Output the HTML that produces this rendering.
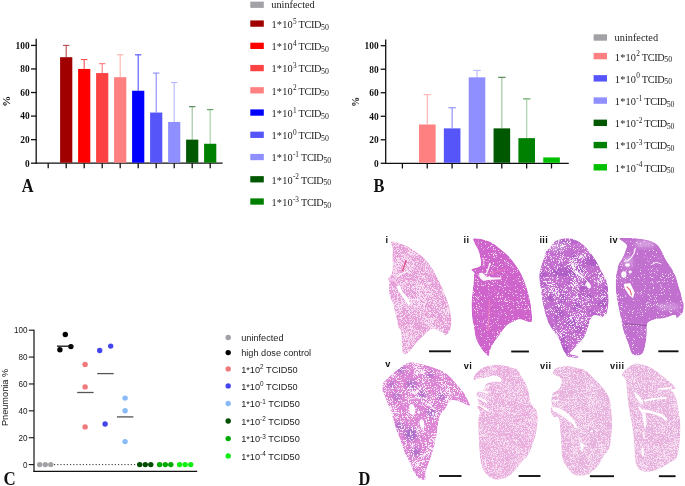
<!DOCTYPE html>
<html><head><meta charset="utf-8"><style>
html,body{margin:0;padding:0;background:#fff;width:685px;height:486px;overflow:hidden}
svg{display:block}
.tb{font-family:"Liberation Serif",serif;font-weight:bold;font-size:9.4px;fill:#111}
.lg{font-family:"Liberation Serif",serif;font-size:10.3px;fill:#222}
.sup{font-size:7.3px}
.sub{font-size:7.8px}
.ts{font-family:"Liberation Sans",sans-serif;font-size:8.7px;fill:#1a1a1a}
.lc{font-family:"Liberation Sans",sans-serif;font-size:9.2px;fill:#222}
.supc{font-size:6.4px}
.pl{font-family:"Liberation Serif",serif;font-weight:bold;font-size:17.8px;fill:#111}
.rl{font-family:"Liberation Sans",sans-serif;font-weight:bold;font-size:9.2px;letter-spacing:0.4px;fill:#111}
</style></head><body>
<svg width="685" height="486" viewBox="0 0 685 486" style="will-change:transform">
<defs>
<filter id="blur1" x="-50%" y="-50%" width="200%" height="200%"><feGaussianBlur stdDeviation="2"/></filter>
<clipPath id="ci"><path d="M390.7,241.8C390.82,240.58 391.83,241.13 393.4,241.4C394.97,241.67 397.43,242.4 400.1,243.4C402.77,244.4 406.5,245.85 409.4,247.4C412.3,248.95 415.05,250.92 417.5,252.7C419.95,254.48 421.88,255.87 424.1,258.1C426.32,260.33 428.78,263.2 430.8,266.1C432.82,269 434.42,272.15 436.2,275.5C437.98,278.85 439.58,281.87 441.5,286.2C443.42,290.53 446.18,297.27 447.7,301.5C449.22,305.73 449.98,308.23 450.6,311.6C451.22,314.97 451.52,318.57 451.4,321.7C451.28,324.83 450.87,328.12 449.9,330.4C448.93,332.68 446.68,334.93 445.6,335.4C444.52,335.87 444.72,334.03 443.4,333.2C442.08,332.37 439.62,331.12 437.7,330.4C435.78,329.68 433.58,328.67 431.9,328.9C430.22,329.13 429.28,330.35 427.6,331.8C425.92,333.25 423.73,335.68 421.8,337.6C419.87,339.52 417.68,341.38 416,343.3C414.32,345.22 413.13,347.42 411.7,349.1C410.27,350.78 408.72,352.57 407.4,353.4C406.08,354.23 404.65,354.58 403.8,354.1C402.95,353.62 402.67,352.77 402.3,350.5C401.93,348.23 401.83,343.85 401.6,340.5C401.37,337.15 401.38,332.45 400.9,330.4C400.42,328.35 399.42,330.13 398.7,328.2C397.98,326.27 397.55,322.77 396.6,318.8C395.65,314.83 394.2,308.37 393,304.4C391.8,300.43 390.12,298.03 389.4,295C388.68,291.97 388.7,288.33 388.7,286.2C388.7,284.07 389.52,283.43 389.4,282.2C389.28,280.97 387.67,280.15 388,278.8C388.33,277.45 390.62,275.98 391.4,274.1C392.18,272.22 392.55,270.38 392.7,267.5C392.85,264.62 392.3,259.93 392.3,256.8C392.3,253.67 392.97,251.2 392.7,248.7C392.43,246.2 390.58,243.02 390.7,241.8Z"/></clipPath>
<filter id="fi" filterUnits="userSpaceOnUse" color-interpolation-filters="sRGB" x="386" y="239.4" width="67.4" height="116.7"><feTurbulence type="fractalNoise" baseFrequency="1.25" numOctaves="2" seed="3"/><feColorMatrix type="matrix" values="1 0 0 0 0 1 0 0 0 0 1 0 0 0 0 0 0 0 0 1" result="h"/><feTurbulence type="fractalNoise" baseFrequency="0.07" numOctaves="2" seed="103"/><feColorMatrix type="matrix" values="1 0 0 0 0 1 0 0 0 0 1 0 0 0 0 0 0 0 0 1" result="l"/><feComposite in="h" in2="l" operator="arithmetic" k1="0" k2="1" k3="0.3" k4="-0.15"/><feColorMatrix type="matrix" values="0 0 0 0 1 0 0 0 0 1 0 0 0 0 1 12 0 0 0 -5.69"/><feComponentTransfer><feFuncA type="linear" slope="0.65"/></feComponentTransfer><feGaussianBlur stdDeviation="0.3"/></filter>
<clipPath id="cii"><path d="M473.4,238.7C474.3,237.92 477.2,238.15 480.1,238.7C483,239.25 487.47,240.33 490.8,242C494.13,243.67 497.15,246.37 500.1,248.7C503.05,251.03 505.85,253.2 508.5,256C511.15,258.8 513.78,262.33 516,265.5C518.22,268.67 520.05,271.42 521.8,275C523.55,278.58 525.1,282.58 526.5,287C527.9,291.42 529.35,297.4 530.2,301.5C531.05,305.6 531.43,308.18 531.6,311.6C531.77,315.02 533.13,320.72 531.2,322C529.27,323.28 522.75,319.43 520,319.3C517.25,319.17 516.3,320.58 514.7,321.2C513.1,321.82 511.73,322.28 510.4,323C509.07,323.72 507.83,324.47 506.7,325.5C505.57,326.53 504.63,327.87 503.6,329.2C502.57,330.53 501.53,332.07 500.5,333.5C499.47,334.93 498.43,336.35 497.4,337.8C496.37,339.25 495.37,340.52 494.3,342.2C493.23,343.88 491.77,346.27 491,347.9C490.23,349.53 490.12,350.65 489.7,352C489.28,353.35 489.22,355.75 488.5,356C487.78,356.25 486.43,354.52 485.4,353.5C484.37,352.48 483.33,351.27 482.3,349.9C481.27,348.53 480.15,346.93 479.2,345.3C478.25,343.67 477.28,341.82 476.6,340.1C475.92,338.38 475.57,337.35 475.1,335C474.63,332.65 474.27,328.7 473.8,326C473.33,323.3 472.68,322.4 472.3,318.8C471.92,315.2 471.47,308.87 471.5,304.4C471.53,299.93 472.18,295.48 472.5,292C472.82,288.52 473.15,286.7 473.4,283.5C473.65,280.3 474.33,275.13 474,272.8C473.67,270.47 470.38,270.62 471.4,269.5C472.42,268.38 478.55,267.55 480.1,266.1C481.65,264.65 480.93,263.25 480.7,260.8C480.47,258.35 479.7,254.3 478.7,251.4C477.7,248.5 475.58,245.52 474.7,243.4C473.82,241.28 472.5,239.48 473.4,238.7Z"/></clipPath>
<filter id="fii" filterUnits="userSpaceOnUse" color-interpolation-filters="sRGB" x="469.4" y="236.7" width="64.2" height="121.3"><feTurbulence type="fractalNoise" baseFrequency="1.25" numOctaves="2" seed="5"/><feColorMatrix type="matrix" values="1 0 0 0 0 1 0 0 0 0 1 0 0 0 0 0 0 0 0 1" result="h"/><feTurbulence type="fractalNoise" baseFrequency="0.07" numOctaves="2" seed="105"/><feColorMatrix type="matrix" values="1 0 0 0 0 1 0 0 0 0 1 0 0 0 0 0 0 0 0 1" result="l"/><feComposite in="h" in2="l" operator="arithmetic" k1="0" k2="1" k3="0.22" k4="-0.11"/><feColorMatrix type="matrix" values="0 0 0 0 1 0 0 0 0 1 0 0 0 0 1 12 0 0 0 -7.68"/><feComponentTransfer><feFuncA type="linear" slope="0.8"/></feComponentTransfer><feGaussianBlur stdDeviation="0.3"/></filter>
<clipPath id="ciii"><path d="M554.1,242C555.65,240.67 557.4,240.02 559.4,239.4C561.4,238.78 563.65,238.3 566.1,238.3C568.55,238.3 571.65,238.67 574.1,239.4C576.55,240.13 578.78,241.37 580.8,242.7C582.82,244.03 584.42,245.5 586.2,247.4C587.98,249.3 589.65,251.5 591.5,254.1C593.35,256.7 595.5,259.95 597.3,263C599.1,266.05 600.85,269.6 602.3,272.4C603.75,275.2 605.08,277.33 606,279.8C606.92,282.27 607.38,284.52 607.8,287.2C608.22,289.88 608.43,292.82 608.5,295.9C608.57,298.98 608.42,303.03 608.2,305.7C607.98,308.37 607.67,310.25 607.2,311.9C606.73,313.55 606.22,314.77 605.4,315.6C604.58,316.43 603.65,316.9 602.3,316.9C600.95,316.9 598.75,315.82 597.3,315.6C595.85,315.38 594.72,314.98 593.6,315.6C592.48,316.22 591.47,317.57 590.6,319.3C589.73,321.03 589.3,323.38 588.4,326C587.5,328.62 586.38,332.57 585.2,335C584.02,337.43 582.78,338.75 581.3,340.6C579.82,342.45 577.78,344.43 576.3,346.1C574.82,347.77 573.45,349.37 572.4,350.6C571.35,351.83 569.8,352.75 570,353.5C570.2,354.25 572.37,354.7 573.6,355.1C574.83,355.5 576.62,355.48 577.4,355.9C578.18,356.32 579.32,357.35 578.3,357.6C577.28,357.85 573.2,357.62 571.3,357.4C569.4,357.18 567.92,356.98 566.9,356.3C565.88,355.62 565.85,354.45 565.2,353.3C564.55,352.15 563.65,350.78 563,349.4C562.35,348.02 561.85,346.47 561.3,345C560.75,343.53 560.25,341.9 559.7,340.6C559.15,339.3 559.58,339.63 558,337.2C556.42,334.77 552.22,329.55 550.2,326C548.18,322.45 547.1,319.5 545.9,315.9C544.7,312.3 543.85,308.72 543,304.4C542.15,300.08 541.4,294.6 540.8,290C540.2,285.4 539.42,280.55 539.4,276.8C539.38,273.05 540.03,270.4 540.7,267.5C541.37,264.6 542.5,262.08 543.4,259.4C544.3,256.72 544.98,253.4 546.1,251.4C547.22,249.4 548.77,248.97 550.1,247.4C551.43,245.83 552.55,243.33 554.1,242Z"/></clipPath>
<filter id="fiii" filterUnits="userSpaceOnUse" color-interpolation-filters="sRGB" x="537.4" y="236.3" width="73.1" height="123.3"><feTurbulence type="fractalNoise" baseFrequency="1.25" numOctaves="2" seed="7"/><feColorMatrix type="matrix" values="1 0 0 0 0 1 0 0 0 0 1 0 0 0 0 0 0 0 0 1" result="h"/><feTurbulence type="fractalNoise" baseFrequency="0.07" numOctaves="2" seed="107"/><feColorMatrix type="matrix" values="1 0 0 0 0 1 0 0 0 0 1 0 0 0 0 0 0 0 0 1" result="l"/><feComposite in="h" in2="l" operator="arithmetic" k1="0" k2="1" k3="0.4" k4="-0.2"/><feColorMatrix type="matrix" values="0 0 0 0 1 0 0 0 0 1 0 0 0 0 1 12 0 0 0 -6.75"/><feComponentTransfer><feFuncA type="linear" slope="0.85"/></feComponentTransfer><feGaussianBlur stdDeviation="0.3"/></filter>
<filter id="miii" filterUnits="userSpaceOnUse" color-interpolation-filters="sRGB" x="537.4" y="236.3" width="73.1" height="123.3"><feTurbulence type="fractalNoise" baseFrequency="0.09" numOctaves="2" seed="57"/><feColorMatrix type="matrix" values="0 0 0 0 1 0 0 0 0 1 0 0 0 0 1 6 0 0 0 -3.0"/></filter>
<mask id="mmiii" maskUnits="userSpaceOnUse" x="537.4" y="236.3" width="73.1" height="123.3"><rect x="537.4" y="236.3" width="73.1" height="123.3" fill="#fff" filter="url(#miii)"/></mask>
<clipPath id="civ"><path d="M619,238.7C618.78,237.58 622.3,238.07 625.1,238C627.9,237.93 632.47,238.07 635.8,238.3C639.13,238.53 642.2,238.78 645.1,239.4C648,240.02 650.97,240.88 653.2,242C655.43,243.12 656.95,244.32 658.5,246.1C660.05,247.88 661.17,250.25 662.5,252.7C663.83,255.15 664.93,258.12 666.5,260.8C668.07,263.48 670.33,266.13 671.9,268.8C673.47,271.47 674.78,273.9 675.9,276.8C677.02,279.7 677.83,283.67 678.6,286.2C679.37,288.73 679.8,289.45 680.5,292C681.2,294.55 682.27,299.62 682.8,301.5C683.33,303.38 683.57,302.05 683.7,303.3C683.83,304.55 683.8,307.38 683.6,309C683.4,310.62 683.18,311.83 682.5,313C681.82,314.17 680.5,315.13 679.5,316C678.5,316.87 677.12,318.28 676.5,318.2C675.88,318.12 676.47,316 675.8,315.5C675.13,315 673.53,315.05 672.5,315.2C671.47,315.35 671.18,315.87 669.6,316.4C668.02,316.93 665.2,317.98 663,318.4C660.8,318.82 658.58,318.43 656.4,318.9C654.22,319.37 651.47,320.27 649.9,321.2C648.33,322.13 647.52,322.5 647,324.5C646.48,326.5 647.07,329.82 646.8,333.2C646.53,336.58 646.12,341.43 645.4,344.8C644.68,348.17 643.95,351.6 642.5,353.4C641.05,355.2 638.5,355.6 636.7,355.6C634.9,355.6 633.13,355.45 631.7,353.4C630.27,351.35 629.43,346.9 628.1,343.3C626.77,339.7 624.9,335.88 623.7,331.8C622.5,327.72 621.85,323.37 620.9,318.8C619.95,314.23 618.82,308.87 618,304.4C617.18,299.93 616.35,296.52 616,292C615.65,287.48 615.68,280.95 615.9,277.3C616.12,273.65 616.88,272.18 617.3,270.1C617.72,268.02 617.55,266.8 618.4,264.8C619.25,262.8 621.28,260.33 622.4,258.1C623.52,255.87 624.43,253.63 625.1,251.4C625.77,249.17 627.42,246.82 626.4,244.7C625.38,242.58 619.22,239.82 619,238.7Z"/></clipPath>
<filter id="fiv" filterUnits="userSpaceOnUse" color-interpolation-filters="sRGB" x="613.9" y="236" width="71.8" height="121.6"><feTurbulence type="fractalNoise" baseFrequency="1.25" numOctaves="2" seed="9"/><feColorMatrix type="matrix" values="1 0 0 0 0 1 0 0 0 0 1 0 0 0 0 0 0 0 0 1" result="h"/><feTurbulence type="fractalNoise" baseFrequency="0.07" numOctaves="2" seed="109"/><feColorMatrix type="matrix" values="1 0 0 0 0 1 0 0 0 0 1 0 0 0 0 0 0 0 0 1" result="l"/><feComposite in="h" in2="l" operator="arithmetic" k1="0" k2="1" k3="0.22" k4="-0.11"/><feColorMatrix type="matrix" values="0 0 0 0 1 0 0 0 0 1 0 0 0 0 1 12 0 0 0 -7.93"/><feComponentTransfer><feFuncA type="linear" slope="0.8"/></feComponentTransfer><feGaussianBlur stdDeviation="0.3"/></filter>
<clipPath id="cv"><path d="M383,384.2C383.25,382.87 382.7,383.33 383.8,382C384.9,380.67 387.17,378.38 389.6,376.2C392.03,374.02 395.72,370.97 398.4,368.9C401.08,366.83 403.52,364.9 405.7,363.8C407.88,362.7 408.58,362.18 411.5,362.3C414.42,362.42 419.55,363.65 423.2,364.5C426.85,365.35 430.23,366.3 433.4,367.4C436.57,368.5 439.52,369.63 442.2,371.1C444.88,372.57 447.07,374.02 449.5,376.2C451.93,378.38 454.37,381.4 456.8,384.2C459.23,387 461.92,389.6 464.1,393C466.28,396.4 469.18,402.53 469.9,404.6C470.62,406.67 469.87,405.77 468.4,405.4C466.93,405.03 463.53,403.25 461.1,402.4C458.67,401.55 455.73,400.42 453.8,400.3C451.87,400.18 450.95,400.25 449.5,401.7C448.05,403.15 446.62,406.8 445.1,409C443.58,411.2 441.57,412.37 440.4,414.9C439.23,417.43 438.68,421.1 438.1,424.2C437.52,427.3 437.48,430.03 436.9,433.5C436.32,436.97 435.55,441.27 434.6,445C433.65,448.73 432.37,452.38 431.2,455.9C430.03,459.42 428.57,463.18 427.6,466.1C426.63,469.02 425.77,471.22 425.4,473.4C425.03,475.58 426.25,478.23 425.4,479.2C424.55,480.17 422.13,480.17 420.3,479.2C418.47,478.23 416.12,476.07 414.4,473.4C412.68,470.73 411.7,466.85 410,463.2C408.3,459.55 405.9,455.63 404.2,451.5C402.5,447.37 400.97,441.58 399.8,438.4C398.63,435.22 398.12,434.97 397.2,432.4C396.28,429.83 395.27,426.12 394.3,423C393.33,419.88 392.48,416.82 391.4,413.7C390.32,410.58 388.98,407.42 387.8,404.3C386.62,401.18 385.22,397.38 384.3,395C383.38,392.62 382.52,391.8 382.3,390C382.08,388.2 382.75,385.53 383,384.2Z"/></clipPath>
<filter id="fv" filterUnits="userSpaceOnUse" color-interpolation-filters="sRGB" x="380.3" y="360.3" width="91.6" height="120.9"><feTurbulence type="fractalNoise" baseFrequency="1.25" numOctaves="2" seed="11"/><feColorMatrix type="matrix" values="1 0 0 0 0 1 0 0 0 0 1 0 0 0 0 0 0 0 0 1" result="h"/><feTurbulence type="fractalNoise" baseFrequency="0.07" numOctaves="2" seed="111"/><feColorMatrix type="matrix" values="1 0 0 0 0 1 0 0 0 0 1 0 0 0 0 0 0 0 0 1" result="l"/><feComposite in="h" in2="l" operator="arithmetic" k1="0" k2="1" k3="0.45" k4="-0.23"/><feColorMatrix type="matrix" values="0 0 0 0 1 0 0 0 0 1 0 0 0 0 1 12 0 0 0 -6.33"/><feComponentTransfer><feFuncA type="linear" slope="0.85"/></feComponentTransfer><feGaussianBlur stdDeviation="0.3"/></filter>
<clipPath id="cvi"><path d="M473.6,379.8C472.78,379.18 474.07,376.35 474.9,374.8C475.73,373.25 476.95,371.83 478.6,370.5C480.25,369.17 482.53,367.68 484.8,366.8C487.07,365.92 489.53,365.52 492.2,365.2C494.87,364.88 498.13,364.73 500.8,364.9C503.47,365.07 506.08,365.63 508.2,366.2C510.32,366.77 511.98,367.73 513.5,368.3C515.02,368.87 515.88,368.1 517.3,369.6C518.72,371.1 520.45,374.72 522,377.3C523.55,379.88 525.45,382.52 526.6,385.1C527.75,387.68 528.38,390.48 528.9,392.8C529.42,395.12 529.18,396.95 529.7,399C530.22,401.05 530.92,403.3 532,405.1C533.08,406.9 535.25,408 536.2,409.8C537.15,411.6 537.48,413.53 537.7,415.9C537.92,418.27 537.67,421.65 537.5,424C537.33,426.35 537,428.17 536.7,430C536.4,431.83 536.13,433.28 535.7,435C535.27,436.72 534.67,438.57 534.1,440.3C533.53,442.03 532.93,443.68 532.3,445.4C531.67,447.12 531.18,448.75 530.3,450.6C529.42,452.45 528.63,454.32 527,456.5C525.37,458.68 522.37,461.55 520.5,463.7C518.63,465.85 517.37,467.65 515.8,469.4C514.23,471.15 512.83,472.77 511.1,474.2C509.37,475.63 507.3,477.1 505.4,478C503.5,478.9 501.45,479.33 499.7,479.6C497.95,479.87 496.48,479.95 494.9,479.6C493.32,479.25 491.78,478.57 490.2,477.5C488.62,476.43 486.75,474.87 485.4,473.2C484.05,471.53 482.97,469.87 482.1,467.5C481.23,465.13 480.67,462 480.2,459C479.73,456 479.53,452.67 479.3,449.5C479.07,446.33 478.98,443.58 478.8,440C478.62,436.42 478.25,431.67 478.2,428C478.15,424.33 478.23,420.68 478.5,418C478.77,415.32 480,413.75 479.8,411.9C479.6,410.05 477.5,408.35 477.3,406.9C477.1,405.45 478.7,404.85 478.6,403.2C478.5,401.55 476.92,398.85 476.7,397C476.48,395.15 476.17,393.33 477.3,392.1C478.43,390.87 482.15,390.83 483.5,389.6C484.85,388.37 484.37,385.93 485.4,384.7C486.43,383.47 487.95,382.72 489.7,382.2C491.45,381.68 494.15,381.6 495.9,381.6C497.65,381.6 499.28,382.5 500.2,382.2C501.12,381.9 501.5,380.62 501.4,379.8C501.3,378.98 500.93,378.03 499.6,377.3C498.27,376.57 495.47,375.4 493.4,375.4C491.33,375.4 489.47,376.78 487.2,377.3C484.93,377.82 482.07,378.08 479.8,378.5C477.53,378.92 474.42,380.42 473.6,379.8Z"/></clipPath>
<filter id="fvi" filterUnits="userSpaceOnUse" color-interpolation-filters="sRGB" x="471.6" y="362.9" width="68.1" height="118.7"><feTurbulence type="fractalNoise" baseFrequency="1.25" numOctaves="2" seed="13"/><feColorMatrix type="matrix" values="1 0 0 0 0 1 0 0 0 0 1 0 0 0 0 0 0 0 0 1" result="h"/><feTurbulence type="fractalNoise" baseFrequency="0.07" numOctaves="2" seed="113"/><feColorMatrix type="matrix" values="1 0 0 0 0 1 0 0 0 0 1 0 0 0 0 0 0 0 0 1" result="l"/><feComposite in="h" in2="l" operator="arithmetic" k1="0" k2="1" k3="0.22" k4="-0.11"/><feColorMatrix type="matrix" values="0 0 0 0 1 0 0 0 0 1 0 0 0 0 1 12 0 0 0 -5.87"/><feComponentTransfer><feFuncA type="linear" slope="0.6"/></feComponentTransfer><feGaussianBlur stdDeviation="0.3"/></filter>
<clipPath id="cvii"><path d="M552.8,373.2C552.52,372.25 553.25,370.87 554,369.9C554.75,368.93 555.65,368.02 557.3,367.4C558.95,366.78 561.57,366.37 563.9,366.2C566.23,366.03 568.7,366.07 571.3,366.4C573.9,366.73 577.08,367.52 579.5,368.2C581.92,368.88 583.55,369 585.8,370.5C588.05,372 590.6,374.88 593,377.2C595.4,379.52 598.05,382 600.2,384.4C602.35,386.8 604.35,389.2 605.9,391.6C607.45,394 608.65,396.4 609.5,398.8C610.35,401.2 610.65,403.6 611,406C611.35,408.4 611.43,410.87 611.6,413.2C611.77,415.53 611.92,418.03 612,420C612.08,421.97 612.18,422.5 612.1,425C612.02,427.5 611.8,431.67 611.5,435C611.2,438.33 610.97,442.17 610.3,445C609.63,447.83 608.58,450.25 607.5,452C606.42,453.75 604.78,454.03 603.8,455.5C602.82,456.97 602.57,459.05 601.6,460.8C600.63,462.55 599.47,464.28 598,466C596.53,467.72 594.52,469.65 592.8,471.1C591.08,472.55 589.52,473.92 587.7,474.7C585.88,475.48 583.83,475.68 581.9,475.8C579.97,475.92 577.8,475.83 576.1,475.4C574.4,474.97 573.17,474.42 571.7,473.2C570.23,471.98 568.65,469.92 567.3,468.1C565.95,466.28 564.52,464.48 563.6,462.3C562.68,460.12 562.2,457.88 561.8,455C561.4,452.12 561.38,448.33 561.2,445C561.02,441.67 560.85,437.18 560.7,435C560.55,432.82 560.47,433.87 560.3,431.9C560.13,429.93 560.1,425.68 559.7,423.2C559.3,420.72 558.92,418.03 557.9,417C556.88,415.97 554.83,418.02 553.6,417C552.37,415.98 550.82,412.75 550.5,410.9C550.18,409.05 551.57,407.72 551.7,405.9C551.83,404.08 551.25,401.75 551.3,400C551.35,398.25 551.75,396.58 552,395.4C552.25,394.22 552.18,393.6 552.8,392.9C553.42,392.2 554.67,391.88 555.7,391.2C556.73,390.52 558.12,389.88 559,388.8C559.88,387.72 560.6,386.07 561,384.7C561.4,383.33 561.67,381.83 561.4,380.6C561.13,379.37 560.35,378.13 559.4,377.3C558.45,376.47 556.8,376.28 555.7,375.6C554.6,374.92 553.08,374.15 552.8,373.2Z"/></clipPath>
<filter id="fvii" filterUnits="userSpaceOnUse" color-interpolation-filters="sRGB" x="548.5" y="364.2" width="65.6" height="113.6"><feTurbulence type="fractalNoise" baseFrequency="1.25" numOctaves="2" seed="15"/><feColorMatrix type="matrix" values="1 0 0 0 0 1 0 0 0 0 1 0 0 0 0 0 0 0 0 1" result="h"/><feTurbulence type="fractalNoise" baseFrequency="0.07" numOctaves="2" seed="115"/><feColorMatrix type="matrix" values="1 0 0 0 0 1 0 0 0 0 1 0 0 0 0 0 0 0 0 1" result="l"/><feComposite in="h" in2="l" operator="arithmetic" k1="0" k2="1" k3="0.22" k4="-0.11"/><feColorMatrix type="matrix" values="0 0 0 0 1 0 0 0 0 1 0 0 0 0 1 12 0 0 0 -5.87"/><feComponentTransfer><feFuncA type="linear" slope="0.6"/></feComponentTransfer><feGaussianBlur stdDeviation="0.3"/></filter>
<clipPath id="cviii"><path d="M621.7,374.8C621.7,373.87 622.17,373.13 623.5,371.7C624.83,370.27 627.63,367.57 629.7,366.2C631.77,364.83 633.85,363.82 635.9,363.5C637.95,363.18 639.53,363.65 642,364.3C644.47,364.95 648.02,366.07 650.7,367.4C653.38,368.73 655.83,370.65 658.1,372.3C660.37,373.95 662.03,375.43 664.3,377.3C666.57,379.17 669.75,381.75 671.7,383.5C673.65,385.25 675.8,386.88 676,387.8C676.2,388.72 673.82,388.67 672.9,389C671.98,389.33 670.57,389.38 670.5,389.8C670.43,390.22 671.9,390.92 672.5,391.5C673.1,392.08 673.42,391.97 674.1,393.3C674.78,394.63 675.87,396.82 676.6,399.5C677.33,402.18 677.88,405.65 678.5,409.4C679.12,413.15 680,417.73 680.3,422C680.6,426.27 680.47,430.83 680.3,435C680.13,439.17 679.87,443.32 679.3,447C678.73,450.68 677.92,454.8 676.9,457.1C675.88,459.4 674.85,459.57 673.2,460.8C671.55,462.03 669.27,463.17 667,464.5C664.73,465.83 662.08,467.67 659.6,468.8C657.12,469.93 654.58,470.82 652.1,471.3C649.62,471.78 646.85,472.02 644.7,471.7C642.55,471.38 640.63,470.6 639.2,469.4C637.77,468.2 636.83,466.55 636.1,464.5C635.37,462.45 635.1,460.02 634.8,457.1C634.5,454.18 634.52,450.35 634.3,447C634.08,443.65 633.88,440.67 633.5,437C633.12,433.33 632.67,429 632,425C631.33,421 630.2,417.05 629.5,413C628.8,408.95 628.22,404.18 627.8,400.7C627.38,397.22 627.27,394.77 627,392.1C626.73,389.43 626.47,386.75 626.2,384.7C625.93,382.65 625.85,381.03 625.4,379.8C624.95,378.57 624.12,378.13 623.5,377.3C622.88,376.47 621.7,375.73 621.7,374.8Z"/></clipPath>
<filter id="fviii" filterUnits="userSpaceOnUse" color-interpolation-filters="sRGB" x="619.7" y="361.5" width="62.6" height="112.2"><feTurbulence type="fractalNoise" baseFrequency="1.25" numOctaves="2" seed="17"/><feColorMatrix type="matrix" values="1 0 0 0 0 1 0 0 0 0 1 0 0 0 0 0 0 0 0 1" result="h"/><feTurbulence type="fractalNoise" baseFrequency="0.07" numOctaves="2" seed="117"/><feColorMatrix type="matrix" values="1 0 0 0 0 1 0 0 0 0 1 0 0 0 0 0 0 0 0 1" result="l"/><feComposite in="h" in2="l" operator="arithmetic" k1="0" k2="1" k3="0.22" k4="-0.11"/><feColorMatrix type="matrix" values="0 0 0 0 1 0 0 0 0 1 0 0 0 0 1 12 0 0 0 -5.87"/><feComponentTransfer><feFuncA type="linear" slope="0.6"/></feComponentTransfer><feGaussianBlur stdDeviation="0.3"/></filter>
</defs>
<rect width="685" height="486" fill="#fff"/>
<g id="chartA">
<line x1="36.2" y1="38.8" x2="36.2" y2="163.8" stroke="#111" stroke-width="1.3"/>
<line x1="35.6" y1="163.2" x2="222.6" y2="163.2" stroke="#111" stroke-width="1.3"/>
<line x1="31" y1="163.2" x2="36.2" y2="163.2" stroke="#111" stroke-width="1.3"/>
<text x="29.6" y="166.5" class="tb" text-anchor="end">0</text>
<line x1="31" y1="139.64" x2="36.2" y2="139.64" stroke="#111" stroke-width="1.3"/>
<text x="29.6" y="142.94" class="tb" text-anchor="end">20</text>
<line x1="31" y1="116.08" x2="36.2" y2="116.08" stroke="#111" stroke-width="1.3"/>
<text x="29.6" y="119.38" class="tb" text-anchor="end">40</text>
<line x1="31" y1="92.52" x2="36.2" y2="92.52" stroke="#111" stroke-width="1.3"/>
<text x="29.6" y="95.82" class="tb" text-anchor="end">60</text>
<line x1="31" y1="68.96" x2="36.2" y2="68.96" stroke="#111" stroke-width="1.3"/>
<text x="29.6" y="72.26" class="tb" text-anchor="end">80</text>
<line x1="31" y1="45.4" x2="36.2" y2="45.4" stroke="#111" stroke-width="1.3"/>
<text x="29.6" y="48.7" class="tb" text-anchor="end">100</text>
<line x1="48.2" y1="163.2" x2="48.2" y2="168.3" stroke="#111" stroke-width="1.3"/>
<line x1="66.2" y1="163.2" x2="66.2" y2="168.3" stroke="#111" stroke-width="1.3"/>
<line x1="84.2" y1="163.2" x2="84.2" y2="168.3" stroke="#111" stroke-width="1.3"/>
<line x1="102.2" y1="163.2" x2="102.2" y2="168.3" stroke="#111" stroke-width="1.3"/>
<line x1="120.2" y1="163.2" x2="120.2" y2="168.3" stroke="#111" stroke-width="1.3"/>
<line x1="138.2" y1="163.2" x2="138.2" y2="168.3" stroke="#111" stroke-width="1.3"/>
<line x1="156.2" y1="163.2" x2="156.2" y2="168.3" stroke="#111" stroke-width="1.3"/>
<line x1="174.2" y1="163.2" x2="174.2" y2="168.3" stroke="#111" stroke-width="1.3"/>
<line x1="192.2" y1="163.2" x2="192.2" y2="168.3" stroke="#111" stroke-width="1.3"/>
<line x1="210.2" y1="163.2" x2="210.2" y2="168.3" stroke="#111" stroke-width="1.3"/>
<line x1="66.2" y1="45.4" x2="66.2" y2="57.18" stroke="#b84848" stroke-width="1.1"/>
<line x1="63" y1="45.4" x2="69.4" y2="45.4" stroke="#b84848" stroke-width="1.1"/>
<rect x="60.1" y="57.18" width="12.2" height="105.52" fill="#a00000"/>
<line x1="84.2" y1="59.54" x2="84.2" y2="68.96" stroke="#ff5050" stroke-width="1.1"/>
<line x1="81" y1="59.54" x2="87.4" y2="59.54" stroke="#ff5050" stroke-width="1.1"/>
<rect x="78.1" y="68.96" width="12.2" height="93.74" fill="#ff0000"/>
<line x1="102.2" y1="63.66" x2="102.2" y2="73.08" stroke="#fd7a7a" stroke-width="1.1"/>
<line x1="99" y1="63.66" x2="105.4" y2="63.66" stroke="#fd7a7a" stroke-width="1.1"/>
<rect x="96.1" y="73.08" width="12.2" height="89.62" fill="#fc4242"/>
<line x1="120.2" y1="54.82" x2="120.2" y2="77.21" stroke="#ffb0b0" stroke-width="1.1"/>
<line x1="117" y1="54.82" x2="123.4" y2="54.82" stroke="#ffb0b0" stroke-width="1.1"/>
<rect x="114.1" y="77.21" width="12.2" height="85.49" fill="#ff8080"/>
<line x1="138.2" y1="54.82" x2="138.2" y2="90.75" stroke="#5050ff" stroke-width="1.1"/>
<line x1="135" y1="54.82" x2="141.4" y2="54.82" stroke="#5050ff" stroke-width="1.1"/>
<rect x="132.1" y="90.75" width="12.2" height="71.95" fill="#0000ff"/>
<line x1="156.2" y1="73.08" x2="156.2" y2="112.55" stroke="#8a8afc" stroke-width="1.1"/>
<line x1="153" y1="73.08" x2="159.4" y2="73.08" stroke="#8a8afc" stroke-width="1.1"/>
<rect x="150.1" y="112.55" width="12.2" height="50.15" fill="#5555fa"/>
<line x1="174.2" y1="82.51" x2="174.2" y2="121.97" stroke="#b8b8ff" stroke-width="1.1"/>
<line x1="171" y1="82.51" x2="177.4" y2="82.51" stroke="#b8b8ff" stroke-width="1.1"/>
<rect x="168.1" y="121.97" width="12.2" height="40.73" fill="#8f8fff"/>
<line x1="192.2" y1="106.66" x2="192.2" y2="139.64" stroke="#9dbf9d" stroke-width="1.1"/>
<line x1="189" y1="106.66" x2="195.4" y2="106.66" stroke="#4a804a" stroke-width="1.1"/>
<rect x="186.1" y="139.64" width="12.2" height="23.06" fill="#005800"/>
<line x1="210.2" y1="109.6" x2="210.2" y2="143.76" stroke="#a2cfa2" stroke-width="1.1"/>
<line x1="207" y1="109.6" x2="213.4" y2="109.6" stroke="#5aa05a" stroke-width="1.1"/>
<rect x="204.1" y="143.76" width="12.2" height="18.94" fill="#008000"/>
<text transform="translate(9.8,101.2) rotate(-90)" class="tb" style="font-size:11px" text-anchor="middle">%</text>
<text transform="translate(21.7,192.4) scale(0.92,1)" class="pl">A</text>
</g>
<rect x="250.3" y="1.6" width="13.5" height="6.3" fill="#a2a1a6"/>
<text x="271.3" y="7.9" class="lg">uninfected</text>
<rect x="250.3" y="20.45" width="13.5" height="6.3" fill="#a00000"/>
<text x="271.5" y="28" class="lg"><tspan letter-spacing="0.2">1*10</tspan><tspan class="sup" dy="-4.4">5</tspan><tspan dy="4.4" letter-spacing="-0.4"> TCID</tspan><tspan class="sub" dy="1.7">50</tspan></text>
<rect x="250.3" y="42.69" width="13.5" height="6.3" fill="#ff0000"/>
<text x="271.5" y="50.24" class="lg"><tspan letter-spacing="0.2">1*10</tspan><tspan class="sup" dy="-4.4">4</tspan><tspan dy="4.4" letter-spacing="-0.4"> TCID</tspan><tspan class="sub" dy="1.7">50</tspan></text>
<rect x="250.3" y="64.93" width="13.5" height="6.3" fill="#fc4242"/>
<text x="271.5" y="72.48" class="lg"><tspan letter-spacing="0.2">1*10</tspan><tspan class="sup" dy="-4.4">3</tspan><tspan dy="4.4" letter-spacing="-0.4"> TCID</tspan><tspan class="sub" dy="1.7">50</tspan></text>
<rect x="250.3" y="87.17" width="13.5" height="6.3" fill="#ff8080"/>
<text x="271.5" y="94.72" class="lg"><tspan letter-spacing="0.2">1*10</tspan><tspan class="sup" dy="-4.4">2</tspan><tspan dy="4.4" letter-spacing="-0.4"> TCID</tspan><tspan class="sub" dy="1.7">50</tspan></text>
<rect x="250.3" y="109.41" width="13.5" height="6.3" fill="#0000ff"/>
<text x="271.5" y="116.96" class="lg"><tspan letter-spacing="0.2">1*10</tspan><tspan class="sup" dy="-4.4">1</tspan><tspan dy="4.4" letter-spacing="-0.4"> TCID</tspan><tspan class="sub" dy="1.7">50</tspan></text>
<rect x="250.3" y="131.65" width="13.5" height="6.3" fill="#5555fa"/>
<text x="271.5" y="139.2" class="lg"><tspan letter-spacing="0.2">1*10</tspan><tspan class="sup" dy="-4.4">0</tspan><tspan dy="4.4" letter-spacing="-0.4"> TCID</tspan><tspan class="sub" dy="1.7">50</tspan></text>
<rect x="250.3" y="153.89" width="13.5" height="6.3" fill="#8f8fff"/>
<text x="271.5" y="161.44" class="lg"><tspan letter-spacing="0.2">1*10</tspan><tspan class="sup" dy="-4.4">-1</tspan><tspan dy="4.4" letter-spacing="-0.4"> TCID</tspan><tspan class="sub" dy="1.7">50</tspan></text>
<rect x="250.3" y="176.13" width="13.5" height="6.3" fill="#005800"/>
<text x="271.5" y="183.68" class="lg"><tspan letter-spacing="0.2">1*10</tspan><tspan class="sup" dy="-4.4">-2</tspan><tspan dy="4.4" letter-spacing="-0.4"> TCID</tspan><tspan class="sub" dy="1.7">50</tspan></text>
<rect x="250.3" y="198.37" width="13.5" height="6.3" fill="#008000"/>
<text x="271.5" y="205.92" class="lg"><tspan letter-spacing="0.2">1*10</tspan><tspan class="sup" dy="-4.4">-3</tspan><tspan dy="4.4" letter-spacing="-0.4"> TCID</tspan><tspan class="sub" dy="1.7">50</tspan></text>
<g id="chartB">
<line x1="385.7" y1="39.6" x2="385.7" y2="163.9" stroke="#111" stroke-width="1.3"/>
<line x1="385.1" y1="163.3" x2="568.8" y2="163.3" stroke="#111" stroke-width="1.3"/>
<line x1="380.7" y1="163.3" x2="385.7" y2="163.3" stroke="#111" stroke-width="1.3"/>
<text x="378.6" y="166.6" class="tb" text-anchor="end">0</text>
<line x1="380.7" y1="139.78" x2="385.7" y2="139.78" stroke="#111" stroke-width="1.3"/>
<text x="378.6" y="143.08" class="tb" text-anchor="end">20</text>
<line x1="380.7" y1="116.26" x2="385.7" y2="116.26" stroke="#111" stroke-width="1.3"/>
<text x="378.6" y="119.56" class="tb" text-anchor="end">40</text>
<line x1="380.7" y1="92.74" x2="385.7" y2="92.74" stroke="#111" stroke-width="1.3"/>
<text x="378.6" y="96.04" class="tb" text-anchor="end">60</text>
<line x1="380.7" y1="69.22" x2="385.7" y2="69.22" stroke="#111" stroke-width="1.3"/>
<text x="378.6" y="72.52" class="tb" text-anchor="end">80</text>
<line x1="380.7" y1="45.7" x2="385.7" y2="45.7" stroke="#111" stroke-width="1.3"/>
<text x="378.6" y="49" class="tb" text-anchor="end">100</text>
<line x1="402.4" y1="163.3" x2="402.4" y2="168.5" stroke="#111" stroke-width="1.3"/>
<line x1="427.25" y1="163.3" x2="427.25" y2="168.5" stroke="#111" stroke-width="1.3"/>
<line x1="452.1" y1="163.3" x2="452.1" y2="168.5" stroke="#111" stroke-width="1.3"/>
<line x1="476.95" y1="163.3" x2="476.95" y2="168.5" stroke="#111" stroke-width="1.3"/>
<line x1="501.8" y1="163.3" x2="501.8" y2="168.5" stroke="#111" stroke-width="1.3"/>
<line x1="526.65" y1="163.3" x2="526.65" y2="168.5" stroke="#111" stroke-width="1.3"/>
<line x1="551.5" y1="163.3" x2="551.5" y2="168.5" stroke="#111" stroke-width="1.3"/>
<line x1="427.3" y1="94.62" x2="427.3" y2="124.49" stroke="#ffb0b0" stroke-width="1.1"/>
<line x1="423.6" y1="94.62" x2="431" y2="94.62" stroke="#ffb0b0" stroke-width="1.1"/>
<rect x="419" y="124.49" width="16.6" height="38.31" fill="#ff8080"/>
<line x1="452.15" y1="107.79" x2="452.15" y2="128.37" stroke="#8a8afc" stroke-width="1.1"/>
<line x1="448.45" y1="107.79" x2="455.85" y2="107.79" stroke="#8a8afc" stroke-width="1.1"/>
<rect x="443.85" y="128.37" width="16.6" height="34.43" fill="#5555fa"/>
<line x1="477" y1="70.4" x2="477" y2="77.33" stroke="#b8b8ff" stroke-width="1.1"/>
<line x1="473.3" y1="70.4" x2="480.7" y2="70.4" stroke="#b8b8ff" stroke-width="1.1"/>
<rect x="468.7" y="77.33" width="16.6" height="85.47" fill="#8f8fff"/>
<line x1="501.85" y1="77.33" x2="501.85" y2="128.37" stroke="#9dbf9d" stroke-width="1.1"/>
<line x1="498.15" y1="77.33" x2="505.55" y2="77.33" stroke="#4a804a" stroke-width="1.1"/>
<rect x="493.55" y="128.37" width="16.6" height="34.43" fill="#005800"/>
<line x1="526.7" y1="98.86" x2="526.7" y2="138.13" stroke="#a2cfa2" stroke-width="1.1"/>
<line x1="523" y1="98.86" x2="530.4" y2="98.86" stroke="#5aa05a" stroke-width="1.1"/>
<rect x="518.4" y="138.13" width="16.6" height="24.67" fill="#008000"/>
<rect x="543.25" y="157.42" width="16.6" height="5.38" fill="#00c000"/>
<text transform="translate(359.3,101.8) rotate(-90)" class="tb" style="font-size:10px" text-anchor="middle">%</text>
<text transform="translate(373.6,191.9) scale(0.92,1)" class="pl">B</text>
</g>
<rect x="593.6" y="34.3" width="13.4" height="6.4" fill="#a2a1a6"/>
<text x="614.6" y="40.8" class="lg">uninfected</text>
<rect x="593.6" y="52.9" width="13.4" height="6.4" fill="#ff8080"/>
<text x="614.8" y="60.5" class="lg"><tspan letter-spacing="0.2">1*10</tspan><tspan class="sup" dy="-4.4">2</tspan><tspan dy="4.4" letter-spacing="-0.4"> TCID</tspan><tspan class="sub" dy="1.7">50</tspan></text>
<rect x="593.6" y="75.14" width="13.4" height="6.4" fill="#5555fa"/>
<text x="614.8" y="82.74" class="lg"><tspan letter-spacing="0.2">1*10</tspan><tspan class="sup" dy="-4.4">0</tspan><tspan dy="4.4" letter-spacing="-0.4"> TCID</tspan><tspan class="sub" dy="1.7">50</tspan></text>
<rect x="593.6" y="97.38" width="13.4" height="6.4" fill="#8f8fff"/>
<text x="614.8" y="104.98" class="lg"><tspan letter-spacing="0.2">1*10</tspan><tspan class="sup" dy="-4.4">-1</tspan><tspan dy="4.4" letter-spacing="-0.4"> TCID</tspan><tspan class="sub" dy="1.7">50</tspan></text>
<rect x="593.6" y="119.62" width="13.4" height="6.4" fill="#005800"/>
<text x="614.8" y="127.22" class="lg"><tspan letter-spacing="0.2">1*10</tspan><tspan class="sup" dy="-4.4">-2</tspan><tspan dy="4.4" letter-spacing="-0.4"> TCID</tspan><tspan class="sub" dy="1.7">50</tspan></text>
<rect x="593.6" y="141.86" width="13.4" height="6.4" fill="#008000"/>
<text x="614.8" y="149.46" class="lg"><tspan letter-spacing="0.2">1*10</tspan><tspan class="sup" dy="-4.4">-3</tspan><tspan dy="4.4" letter-spacing="-0.4"> TCID</tspan><tspan class="sub" dy="1.7">50</tspan></text>
<rect x="593.6" y="164.1" width="13.4" height="6.4" fill="#00c000"/>
<text x="614.8" y="171.7" class="lg"><tspan letter-spacing="0.2">1*10</tspan><tspan class="sup" dy="-4.4">-4</tspan><tspan dy="4.4" letter-spacing="-0.4"> TCID</tspan><tspan class="sub" dy="1.7">50</tspan></text>
<g id="chartC">
<line x1="34" y1="329.8" x2="34" y2="471.9" stroke="#111" stroke-width="1.2"/>
<line x1="33.4" y1="471.3" x2="197.2" y2="471.3" stroke="#111" stroke-width="1.2"/>
<line x1="28.8" y1="464.6" x2="34" y2="464.6" stroke="#111" stroke-width="1.1"/>
<text transform="translate(27.5,467.6) scale(0.93,1)" class="ts" text-anchor="end">0</text>
<line x1="28.8" y1="437.72" x2="34" y2="437.72" stroke="#111" stroke-width="1.1"/>
<text transform="translate(27.5,440.72) scale(0.93,1)" class="ts" text-anchor="end">20</text>
<line x1="28.8" y1="410.84" x2="34" y2="410.84" stroke="#111" stroke-width="1.1"/>
<text transform="translate(27.5,413.84) scale(0.93,1)" class="ts" text-anchor="end">40</text>
<line x1="28.8" y1="383.96" x2="34" y2="383.96" stroke="#111" stroke-width="1.1"/>
<text transform="translate(27.5,386.96) scale(0.93,1)" class="ts" text-anchor="end">60</text>
<line x1="28.8" y1="357.08" x2="34" y2="357.08" stroke="#111" stroke-width="1.1"/>
<text transform="translate(27.5,360.08) scale(0.93,1)" class="ts" text-anchor="end">80</text>
<line x1="28.8" y1="330.2" x2="34" y2="330.2" stroke="#111" stroke-width="1.1"/>
<text transform="translate(27.5,333.2) scale(0.93,1)" class="ts" text-anchor="end">100</text>
<line x1="54" y1="464.6" x2="137" y2="464.6" stroke="#333" stroke-width="1" stroke-dasharray="1.2 2"/>
<circle cx="39.7" cy="464.6" r="2.7" fill="#a2a1a6"/>
<circle cx="45.3" cy="464.6" r="2.7" fill="#a2a1a6"/>
<circle cx="50.8" cy="464.6" r="2.7" fill="#a2a1a6"/>
<circle cx="139.7" cy="464.6" r="2.7" fill="#004d00"/>
<circle cx="145.3" cy="464.6" r="2.7" fill="#004d00"/>
<circle cx="150.8" cy="464.6" r="2.7" fill="#004d00"/>
<circle cx="159.6" cy="464.6" r="2.7" fill="#00aa00"/>
<circle cx="165.3" cy="464.6" r="2.7" fill="#00aa00"/>
<circle cx="170.8" cy="464.6" r="2.7" fill="#00aa00"/>
<circle cx="179.6" cy="464.6" r="2.7" fill="#11ee11"/>
<circle cx="185.1" cy="464.6" r="2.7" fill="#11ee11"/>
<circle cx="190.7" cy="464.6" r="2.7" fill="#11ee11"/>
<circle cx="65.3" cy="334.5" r="2.7" fill="#000"/>
<circle cx="59.9" cy="349.7" r="2.7" fill="#000"/>
<circle cx="70.9" cy="346.6" r="2.7" fill="#000"/>
<line x1="57" y1="346.2" x2="73" y2="346.2" stroke="#111" stroke-width="1.3"/>
<circle cx="85.1" cy="364.5" r="2.7" fill="#f07a7a"/>
<circle cx="85.1" cy="386.9" r="2.7" fill="#f07a7a"/>
<circle cx="85.1" cy="426.9" r="2.7" fill="#f07a7a"/>
<line x1="77.2" y1="392.5" x2="93.6" y2="392.5" stroke="#555" stroke-width="1.3"/>
<circle cx="99.7" cy="350.5" r="2.7" fill="#4545ee"/>
<circle cx="110.7" cy="346.1" r="2.7" fill="#4545ee"/>
<circle cx="105.1" cy="424" r="2.7" fill="#4545ee"/>
<line x1="97.2" y1="373.6" x2="113.7" y2="373.6" stroke="#555" stroke-width="1.3"/>
<circle cx="125.1" cy="398.1" r="2.7" fill="#88bbf8"/>
<circle cx="125.1" cy="410.8" r="2.7" fill="#88bbf8"/>
<circle cx="125.1" cy="441.6" r="2.7" fill="#88bbf8"/>
<line x1="116.9" y1="416.9" x2="133.4" y2="416.9" stroke="#555" stroke-width="1.3"/>
<text transform="translate(7.6,397.5) rotate(-90)" class="ts" style="font-size:9.2px" text-anchor="middle">Pneumonia %</text>
<text transform="translate(3.4,485.1) scale(0.95,1)" class="pl">C</text>
</g>
<circle cx="228.2" cy="337.5" r="2.7" fill="#a2a1a6"/>
<text x="241.2" y="340.5" class="lc">uninfected</text>
<circle cx="228.2" cy="352.6" r="2.7" fill="#000"/>
<text x="241.2" y="355.6" class="lc">high dose control</text>
<circle cx="228.2" cy="368.9" r="2.7" fill="#f07a7a"/>
<text x="241.2" y="372.5" class="lc">1*10<tspan class="supc" dy="-3.4">2</tspan><tspan dy="3.4"> TCID50</tspan></text>
<circle cx="228.2" cy="385.9" r="2.7" fill="#4545ee"/>
<text x="241.2" y="389.5" class="lc">1*10<tspan class="supc" dy="-3.4">0</tspan><tspan dy="3.4"> TCID50</tspan></text>
<circle cx="228.2" cy="403.5" r="2.7" fill="#88bbf8"/>
<text x="241.2" y="407.1" class="lc">1*10<tspan class="supc" dy="-3.4">-1</tspan><tspan dy="3.4"> TCID50</tspan></text>
<circle cx="228.2" cy="421" r="2.7" fill="#004d00"/>
<text x="241.2" y="424.6" class="lc">1*10<tspan class="supc" dy="-3.4">-2</tspan><tspan dy="3.4"> TCID50</tspan></text>
<circle cx="228.2" cy="438.6" r="2.7" fill="#00aa00"/>
<text x="241.2" y="442.2" class="lc">1*10<tspan class="supc" dy="-3.4">-3</tspan><tspan dy="3.4"> TCID50</tspan></text>
<circle cx="228.2" cy="455.9" r="2.7" fill="#11ee11"/>
<text x="241.2" y="459.5" class="lc">1*10<tspan class="supc" dy="-3.4">-4</tspan><tspan dy="3.4"> TCID50</tspan></text>
<text transform="translate(358.6,484.6) scale(0.92,1)" class="pl">D</text>
<g clip-path="url(#ci)"><path d="M390.7,241.8C390.82,240.58 391.83,241.13 393.4,241.4C394.97,241.67 397.43,242.4 400.1,243.4C402.77,244.4 406.5,245.85 409.4,247.4C412.3,248.95 415.05,250.92 417.5,252.7C419.95,254.48 421.88,255.87 424.1,258.1C426.32,260.33 428.78,263.2 430.8,266.1C432.82,269 434.42,272.15 436.2,275.5C437.98,278.85 439.58,281.87 441.5,286.2C443.42,290.53 446.18,297.27 447.7,301.5C449.22,305.73 449.98,308.23 450.6,311.6C451.22,314.97 451.52,318.57 451.4,321.7C451.28,324.83 450.87,328.12 449.9,330.4C448.93,332.68 446.68,334.93 445.6,335.4C444.52,335.87 444.72,334.03 443.4,333.2C442.08,332.37 439.62,331.12 437.7,330.4C435.78,329.68 433.58,328.67 431.9,328.9C430.22,329.13 429.28,330.35 427.6,331.8C425.92,333.25 423.73,335.68 421.8,337.6C419.87,339.52 417.68,341.38 416,343.3C414.32,345.22 413.13,347.42 411.7,349.1C410.27,350.78 408.72,352.57 407.4,353.4C406.08,354.23 404.65,354.58 403.8,354.1C402.95,353.62 402.67,352.77 402.3,350.5C401.93,348.23 401.83,343.85 401.6,340.5C401.37,337.15 401.38,332.45 400.9,330.4C400.42,328.35 399.42,330.13 398.7,328.2C397.98,326.27 397.55,322.77 396.6,318.8C395.65,314.83 394.2,308.37 393,304.4C391.8,300.43 390.12,298.03 389.4,295C388.68,291.97 388.7,288.33 388.7,286.2C388.7,284.07 389.52,283.43 389.4,282.2C389.28,280.97 387.67,280.15 388,278.8C388.33,277.45 390.62,275.98 391.4,274.1C392.18,272.22 392.55,270.38 392.7,267.5C392.85,264.62 392.3,259.93 392.3,256.8C392.3,253.67 392.97,251.2 392.7,248.7C392.43,246.2 390.58,243.02 390.7,241.8Z" fill="#e69ed8"/><rect x="386" y="239.4" width="67.4" height="116.7" filter="url(#fi)"/><polygon points="396.2,286.5 399.6,285 402.6,291.8 407.8,297.6 410.2,303.6 408.2,305.2 404.8,300.2 399.2,292.3" fill="#fff" opacity="1.0"/><polyline points="407.8,299.5 419,300" fill="none" stroke="#fff" stroke-width="1.0" stroke-linecap="round" stroke-linejoin="round" opacity="0.9"/><polyline points="397.5,276.5 402,273.5 407.7,271.4" fill="none" stroke="#fff" stroke-width="1.2" stroke-linecap="round" stroke-linejoin="round" opacity="0.9"/><polyline points="402.6,270.9 406,260.7" fill="none" stroke="#e0407a" stroke-width="1.4" stroke-linecap="round" stroke-linejoin="round" opacity="0.9"/><polyline points="388,279.5 395,280.5" fill="none" stroke="#f6c8ee" stroke-width="2.0" stroke-linecap="round" stroke-linejoin="round" opacity="1.0"/></g>
<g clip-path="url(#cii)"><path d="M473.4,238.7C474.3,237.92 477.2,238.15 480.1,238.7C483,239.25 487.47,240.33 490.8,242C494.13,243.67 497.15,246.37 500.1,248.7C503.05,251.03 505.85,253.2 508.5,256C511.15,258.8 513.78,262.33 516,265.5C518.22,268.67 520.05,271.42 521.8,275C523.55,278.58 525.1,282.58 526.5,287C527.9,291.42 529.35,297.4 530.2,301.5C531.05,305.6 531.43,308.18 531.6,311.6C531.77,315.02 533.13,320.72 531.2,322C529.27,323.28 522.75,319.43 520,319.3C517.25,319.17 516.3,320.58 514.7,321.2C513.1,321.82 511.73,322.28 510.4,323C509.07,323.72 507.83,324.47 506.7,325.5C505.57,326.53 504.63,327.87 503.6,329.2C502.57,330.53 501.53,332.07 500.5,333.5C499.47,334.93 498.43,336.35 497.4,337.8C496.37,339.25 495.37,340.52 494.3,342.2C493.23,343.88 491.77,346.27 491,347.9C490.23,349.53 490.12,350.65 489.7,352C489.28,353.35 489.22,355.75 488.5,356C487.78,356.25 486.43,354.52 485.4,353.5C484.37,352.48 483.33,351.27 482.3,349.9C481.27,348.53 480.15,346.93 479.2,345.3C478.25,343.67 477.28,341.82 476.6,340.1C475.92,338.38 475.57,337.35 475.1,335C474.63,332.65 474.27,328.7 473.8,326C473.33,323.3 472.68,322.4 472.3,318.8C471.92,315.2 471.47,308.87 471.5,304.4C471.53,299.93 472.18,295.48 472.5,292C472.82,288.52 473.15,286.7 473.4,283.5C473.65,280.3 474.33,275.13 474,272.8C473.67,270.47 470.38,270.62 471.4,269.5C472.42,268.38 478.55,267.55 480.1,266.1C481.65,264.65 480.93,263.25 480.7,260.8C480.47,258.35 479.7,254.3 478.7,251.4C477.7,248.5 475.58,245.52 474.7,243.4C473.82,241.28 472.5,239.48 473.4,238.7Z" fill="#cf64cc"/><rect x="469.4" y="236.7" width="64.2" height="121.3" filter="url(#fii)"/><polyline points="489.5,300 489,312 488.2,330" fill="none" stroke="#ee84c0" stroke-width="1.4" stroke-linecap="round" stroke-linejoin="round" opacity="0.7"/><polygon points="479,273.5 482,272.6 484.5,274.5 486.5,276.8 494,277.6 501.5,277.6 501,279.2 492,279.7 486,280.2 483.5,281 481.5,279.5 479.3,277" fill="#fff" opacity="0.95"/><polyline points="486.5,273.5 488.5,268 490,263.4" fill="none" stroke="#fff" stroke-width="1.5" stroke-linecap="round" stroke-linejoin="round" opacity="0.85"/><polyline points="484,266 483.5,258" fill="none" stroke="#f4d0f0" stroke-width="1.2" stroke-linecap="round" stroke-linejoin="round" opacity="0.7"/><polyline points="489.6,273.7 497,271.5 505,269" fill="none" stroke="#f07ab8" stroke-width="1.0" stroke-linecap="round" stroke-linejoin="round" opacity="0.9"/></g>
<g clip-path="url(#ciii)"><path d="M554.1,242C555.65,240.67 557.4,240.02 559.4,239.4C561.4,238.78 563.65,238.3 566.1,238.3C568.55,238.3 571.65,238.67 574.1,239.4C576.55,240.13 578.78,241.37 580.8,242.7C582.82,244.03 584.42,245.5 586.2,247.4C587.98,249.3 589.65,251.5 591.5,254.1C593.35,256.7 595.5,259.95 597.3,263C599.1,266.05 600.85,269.6 602.3,272.4C603.75,275.2 605.08,277.33 606,279.8C606.92,282.27 607.38,284.52 607.8,287.2C608.22,289.88 608.43,292.82 608.5,295.9C608.57,298.98 608.42,303.03 608.2,305.7C607.98,308.37 607.67,310.25 607.2,311.9C606.73,313.55 606.22,314.77 605.4,315.6C604.58,316.43 603.65,316.9 602.3,316.9C600.95,316.9 598.75,315.82 597.3,315.6C595.85,315.38 594.72,314.98 593.6,315.6C592.48,316.22 591.47,317.57 590.6,319.3C589.73,321.03 589.3,323.38 588.4,326C587.5,328.62 586.38,332.57 585.2,335C584.02,337.43 582.78,338.75 581.3,340.6C579.82,342.45 577.78,344.43 576.3,346.1C574.82,347.77 573.45,349.37 572.4,350.6C571.35,351.83 569.8,352.75 570,353.5C570.2,354.25 572.37,354.7 573.6,355.1C574.83,355.5 576.62,355.48 577.4,355.9C578.18,356.32 579.32,357.35 578.3,357.6C577.28,357.85 573.2,357.62 571.3,357.4C569.4,357.18 567.92,356.98 566.9,356.3C565.88,355.62 565.85,354.45 565.2,353.3C564.55,352.15 563.65,350.78 563,349.4C562.35,348.02 561.85,346.47 561.3,345C560.75,343.53 560.25,341.9 559.7,340.6C559.15,339.3 559.58,339.63 558,337.2C556.42,334.77 552.22,329.55 550.2,326C548.18,322.45 547.1,319.5 545.9,315.9C544.7,312.3 543.85,308.72 543,304.4C542.15,300.08 541.4,294.6 540.8,290C540.2,285.4 539.42,280.55 539.4,276.8C539.38,273.05 540.03,270.4 540.7,267.5C541.37,264.6 542.5,262.08 543.4,259.4C544.3,256.72 544.98,253.4 546.1,251.4C547.22,249.4 548.77,248.97 550.1,247.4C551.43,245.83 552.55,243.33 554.1,242Z" fill="#c46ed0"/><g opacity="0.55"><rect x="537.4" y="236.3" width="73.1" height="123.3" fill="#a050c0" mask="url(#mmiii)"/></g><rect x="537.4" y="236.3" width="73.1" height="123.3" filter="url(#fiii)"/><ellipse cx="558" cy="246" rx="8" ry="5" fill="#fff" opacity="0.25" filter="url(#blur1)"/><polyline points="575.3,271.1 579,274.2 582.7,277.2" fill="none" stroke="#fff" stroke-width="2.1" stroke-linecap="round" stroke-linejoin="round" opacity="0.95"/><polyline points="572.4,265.7 574.6,268.6" fill="none" stroke="#fff" stroke-width="1.8" stroke-linecap="round" stroke-linejoin="round" opacity="0.9"/><ellipse cx="588.3" cy="285.1" rx="2.1" ry="3.6" transform="rotate(-30 588.3 285.1)" fill="#fff" opacity="0.95"/></g>
<g clip-path="url(#civ)"><path d="M619,238.7C618.78,237.58 622.3,238.07 625.1,238C627.9,237.93 632.47,238.07 635.8,238.3C639.13,238.53 642.2,238.78 645.1,239.4C648,240.02 650.97,240.88 653.2,242C655.43,243.12 656.95,244.32 658.5,246.1C660.05,247.88 661.17,250.25 662.5,252.7C663.83,255.15 664.93,258.12 666.5,260.8C668.07,263.48 670.33,266.13 671.9,268.8C673.47,271.47 674.78,273.9 675.9,276.8C677.02,279.7 677.83,283.67 678.6,286.2C679.37,288.73 679.8,289.45 680.5,292C681.2,294.55 682.27,299.62 682.8,301.5C683.33,303.38 683.57,302.05 683.7,303.3C683.83,304.55 683.8,307.38 683.6,309C683.4,310.62 683.18,311.83 682.5,313C681.82,314.17 680.5,315.13 679.5,316C678.5,316.87 677.12,318.28 676.5,318.2C675.88,318.12 676.47,316 675.8,315.5C675.13,315 673.53,315.05 672.5,315.2C671.47,315.35 671.18,315.87 669.6,316.4C668.02,316.93 665.2,317.98 663,318.4C660.8,318.82 658.58,318.43 656.4,318.9C654.22,319.37 651.47,320.27 649.9,321.2C648.33,322.13 647.52,322.5 647,324.5C646.48,326.5 647.07,329.82 646.8,333.2C646.53,336.58 646.12,341.43 645.4,344.8C644.68,348.17 643.95,351.6 642.5,353.4C641.05,355.2 638.5,355.6 636.7,355.6C634.9,355.6 633.13,355.45 631.7,353.4C630.27,351.35 629.43,346.9 628.1,343.3C626.77,339.7 624.9,335.88 623.7,331.8C622.5,327.72 621.85,323.37 620.9,318.8C619.95,314.23 618.82,308.87 618,304.4C617.18,299.93 616.35,296.52 616,292C615.65,287.48 615.68,280.95 615.9,277.3C616.12,273.65 616.88,272.18 617.3,270.1C617.72,268.02 617.55,266.8 618.4,264.8C619.25,262.8 621.28,260.33 622.4,258.1C623.52,255.87 624.43,253.63 625.1,251.4C625.77,249.17 627.42,246.82 626.4,244.7C625.38,242.58 619.22,239.82 619,238.7Z" fill="#c270d0"/><rect x="613.9" y="236" width="71.8" height="121.6" filter="url(#fiv)"/><ellipse cx="645" cy="244" rx="11" ry="3.5" fill="#fff" opacity="0.35" filter="url(#blur1)"/><ellipse cx="668" cy="307" rx="12" ry="2.5" fill="#fff" opacity="0.35" filter="url(#blur1)"/><ellipse cx="628" cy="262" rx="5" ry="6" fill="#fff" opacity="0.3" filter="url(#blur1)"/><polyline points="635.2,248.4 634,253.5 631,258 627.5,260.5 624.5,261.4" fill="none" stroke="#fff" stroke-width="1.3" stroke-linecap="round" stroke-linejoin="round" opacity="0.9"/><ellipse cx="627.5" cy="265" rx="2.4" ry="1.8" transform="rotate(0 627.5 265)" fill="#fff" opacity="0.95"/><ellipse cx="623.8" cy="274.5" rx="2.6" ry="3.3" transform="rotate(0 623.8 274.5)" fill="#fff" opacity="0.95"/><ellipse cx="630.2" cy="272" rx="1.6" ry="1.4" transform="rotate(0 630.2 272)" fill="#fff" opacity="0.95"/><polygon points="623.9,284.1 630.1,283 634.7,292.6 633,298.3 629,294.9 624.5,288" fill="#fff" opacity="1.0"/><polyline points="627,287 630,290 631.5,295" fill="none" stroke="#e05070" stroke-width="1.2" stroke-linecap="round" stroke-linejoin="round" opacity="0.8"/><polyline points="651,264.8 656,262.3 661,263.8" fill="none" stroke="#fff" stroke-width="1.0" stroke-linecap="round" stroke-linejoin="round" opacity="0.8"/><polyline points="625,323.9 636,324.6 647,325.8" fill="none" stroke="#7a3a7a" stroke-width="0.8" stroke-linecap="round" stroke-linejoin="round" opacity="0.7"/></g>
<g clip-path="url(#cv)"><path d="M383,384.2C383.25,382.87 382.7,383.33 383.8,382C384.9,380.67 387.17,378.38 389.6,376.2C392.03,374.02 395.72,370.97 398.4,368.9C401.08,366.83 403.52,364.9 405.7,363.8C407.88,362.7 408.58,362.18 411.5,362.3C414.42,362.42 419.55,363.65 423.2,364.5C426.85,365.35 430.23,366.3 433.4,367.4C436.57,368.5 439.52,369.63 442.2,371.1C444.88,372.57 447.07,374.02 449.5,376.2C451.93,378.38 454.37,381.4 456.8,384.2C459.23,387 461.92,389.6 464.1,393C466.28,396.4 469.18,402.53 469.9,404.6C470.62,406.67 469.87,405.77 468.4,405.4C466.93,405.03 463.53,403.25 461.1,402.4C458.67,401.55 455.73,400.42 453.8,400.3C451.87,400.18 450.95,400.25 449.5,401.7C448.05,403.15 446.62,406.8 445.1,409C443.58,411.2 441.57,412.37 440.4,414.9C439.23,417.43 438.68,421.1 438.1,424.2C437.52,427.3 437.48,430.03 436.9,433.5C436.32,436.97 435.55,441.27 434.6,445C433.65,448.73 432.37,452.38 431.2,455.9C430.03,459.42 428.57,463.18 427.6,466.1C426.63,469.02 425.77,471.22 425.4,473.4C425.03,475.58 426.25,478.23 425.4,479.2C424.55,480.17 422.13,480.17 420.3,479.2C418.47,478.23 416.12,476.07 414.4,473.4C412.68,470.73 411.7,466.85 410,463.2C408.3,459.55 405.9,455.63 404.2,451.5C402.5,447.37 400.97,441.58 399.8,438.4C398.63,435.22 398.12,434.97 397.2,432.4C396.28,429.83 395.27,426.12 394.3,423C393.33,419.88 392.48,416.82 391.4,413.7C390.32,410.58 388.98,407.42 387.8,404.3C386.62,401.18 385.22,397.38 384.3,395C383.38,392.62 382.52,391.8 382.3,390C382.08,388.2 382.75,385.53 383,384.2Z" fill="#de86d6"/><circle cx="400.6" cy="369.5" r="3.5" fill="#a068c8" opacity="0.85" filter="url(#blur1)"/><circle cx="411.3" cy="384.8" r="4.5" fill="#a068c8" opacity="0.85" filter="url(#blur1)"/><circle cx="422" cy="394.6" r="4" fill="#a068c8" opacity="0.85" filter="url(#blur1)"/><circle cx="431.1" cy="412.7" r="4.5" fill="#a068c8" opacity="0.85" filter="url(#blur1)"/><circle cx="411" cy="434.1" r="6.5" fill="#a068c8" opacity="0.85" filter="url(#blur1)"/><circle cx="399.8" cy="425.9" r="4" fill="#a068c8" opacity="0.85" filter="url(#blur1)"/><circle cx="396.5" cy="396.3" r="3.5" fill="#a068c8" opacity="0.85" filter="url(#blur1)"/><circle cx="441" cy="396.3" r="3.5" fill="#a068c8" opacity="0.85" filter="url(#blur1)"/><circle cx="392" cy="385" r="3" fill="#a068c8" opacity="0.85" filter="url(#blur1)"/><circle cx="430" cy="375" r="3" fill="#a068c8" opacity="0.85" filter="url(#blur1)"/><circle cx="416" cy="452" r="4" fill="#a068c8" opacity="0.85" filter="url(#blur1)"/><rect x="380.3" y="360.3" width="91.6" height="120.9" filter="url(#fv)"/><ellipse cx="412.2" cy="409.5" rx="3.0" ry="5.5" transform="rotate(-10 412.2 409.5)" fill="#fff" opacity="0.97"/><ellipse cx="422" cy="423.8" rx="2.3" ry="4.6" transform="rotate(-10 422 423.8)" fill="#fff" opacity="0.97"/><ellipse cx="418.7" cy="412.2" rx="1.3" ry="1.6" transform="rotate(0 418.7 412.2)" fill="#fff" opacity="0.9"/><polyline points="408,399.5 417,397.5 426,398.5" fill="none" stroke="#fff" stroke-width="1.2" stroke-linecap="round" stroke-linejoin="round" opacity="0.85"/></g>
<g clip-path="url(#cvi)"><path d="M473.6,379.8C472.78,379.18 474.07,376.35 474.9,374.8C475.73,373.25 476.95,371.83 478.6,370.5C480.25,369.17 482.53,367.68 484.8,366.8C487.07,365.92 489.53,365.52 492.2,365.2C494.87,364.88 498.13,364.73 500.8,364.9C503.47,365.07 506.08,365.63 508.2,366.2C510.32,366.77 511.98,367.73 513.5,368.3C515.02,368.87 515.88,368.1 517.3,369.6C518.72,371.1 520.45,374.72 522,377.3C523.55,379.88 525.45,382.52 526.6,385.1C527.75,387.68 528.38,390.48 528.9,392.8C529.42,395.12 529.18,396.95 529.7,399C530.22,401.05 530.92,403.3 532,405.1C533.08,406.9 535.25,408 536.2,409.8C537.15,411.6 537.48,413.53 537.7,415.9C537.92,418.27 537.67,421.65 537.5,424C537.33,426.35 537,428.17 536.7,430C536.4,431.83 536.13,433.28 535.7,435C535.27,436.72 534.67,438.57 534.1,440.3C533.53,442.03 532.93,443.68 532.3,445.4C531.67,447.12 531.18,448.75 530.3,450.6C529.42,452.45 528.63,454.32 527,456.5C525.37,458.68 522.37,461.55 520.5,463.7C518.63,465.85 517.37,467.65 515.8,469.4C514.23,471.15 512.83,472.77 511.1,474.2C509.37,475.63 507.3,477.1 505.4,478C503.5,478.9 501.45,479.33 499.7,479.6C497.95,479.87 496.48,479.95 494.9,479.6C493.32,479.25 491.78,478.57 490.2,477.5C488.62,476.43 486.75,474.87 485.4,473.2C484.05,471.53 482.97,469.87 482.1,467.5C481.23,465.13 480.67,462 480.2,459C479.73,456 479.53,452.67 479.3,449.5C479.07,446.33 478.98,443.58 478.8,440C478.62,436.42 478.25,431.67 478.2,428C478.15,424.33 478.23,420.68 478.5,418C478.77,415.32 480,413.75 479.8,411.9C479.6,410.05 477.5,408.35 477.3,406.9C477.1,405.45 478.7,404.85 478.6,403.2C478.5,401.55 476.92,398.85 476.7,397C476.48,395.15 476.17,393.33 477.3,392.1C478.43,390.87 482.15,390.83 483.5,389.6C484.85,388.37 484.37,385.93 485.4,384.7C486.43,383.47 487.95,382.72 489.7,382.2C491.45,381.68 494.15,381.6 495.9,381.6C497.65,381.6 499.28,382.5 500.2,382.2C501.12,381.9 501.5,380.62 501.4,379.8C501.3,378.98 500.93,378.03 499.6,377.3C498.27,376.57 495.47,375.4 493.4,375.4C491.33,375.4 489.47,376.78 487.2,377.3C484.93,377.82 482.07,378.08 479.8,378.5C477.53,378.92 474.42,380.42 473.6,379.8Z" fill="#eaaede"/><rect x="471.6" y="362.9" width="68.1" height="118.7" filter="url(#fvi)"/><polyline points="476,390.5 482,391 487.5,392.5" fill="none" stroke="#fff" stroke-width="2.0" stroke-linecap="round" stroke-linejoin="round" opacity="0.9"/><polyline points="476.5,397.5 481,399 486.5,402" fill="none" stroke="#fff" stroke-width="2.3" stroke-linecap="round" stroke-linejoin="round" opacity="0.9"/><polyline points="478,404.5 483,407.5 488,410.5" fill="none" stroke="#fff" stroke-width="2.3" stroke-linecap="round" stroke-linejoin="round" opacity="0.9"/><polyline points="479,406.5 484,409.5" fill="none" stroke="#e0407a" stroke-width="0.7" stroke-linecap="round" stroke-linejoin="round" opacity="0.6"/><polyline points="489,386 484,388" fill="none" stroke="#fff" stroke-width="1.5" stroke-linecap="round" stroke-linejoin="round" opacity="0.8"/><polyline points="485.5,460 486,466" fill="none" stroke="#fff" stroke-width="1.0" stroke-linecap="round" stroke-linejoin="round" opacity="0.7"/><polyline points="488,424 490,427" fill="none" stroke="#fff" stroke-width="1.0" stroke-linecap="round" stroke-linejoin="round" opacity="0.7"/></g>
<g clip-path="url(#cvii)"><path d="M552.8,373.2C552.52,372.25 553.25,370.87 554,369.9C554.75,368.93 555.65,368.02 557.3,367.4C558.95,366.78 561.57,366.37 563.9,366.2C566.23,366.03 568.7,366.07 571.3,366.4C573.9,366.73 577.08,367.52 579.5,368.2C581.92,368.88 583.55,369 585.8,370.5C588.05,372 590.6,374.88 593,377.2C595.4,379.52 598.05,382 600.2,384.4C602.35,386.8 604.35,389.2 605.9,391.6C607.45,394 608.65,396.4 609.5,398.8C610.35,401.2 610.65,403.6 611,406C611.35,408.4 611.43,410.87 611.6,413.2C611.77,415.53 611.92,418.03 612,420C612.08,421.97 612.18,422.5 612.1,425C612.02,427.5 611.8,431.67 611.5,435C611.2,438.33 610.97,442.17 610.3,445C609.63,447.83 608.58,450.25 607.5,452C606.42,453.75 604.78,454.03 603.8,455.5C602.82,456.97 602.57,459.05 601.6,460.8C600.63,462.55 599.47,464.28 598,466C596.53,467.72 594.52,469.65 592.8,471.1C591.08,472.55 589.52,473.92 587.7,474.7C585.88,475.48 583.83,475.68 581.9,475.8C579.97,475.92 577.8,475.83 576.1,475.4C574.4,474.97 573.17,474.42 571.7,473.2C570.23,471.98 568.65,469.92 567.3,468.1C565.95,466.28 564.52,464.48 563.6,462.3C562.68,460.12 562.2,457.88 561.8,455C561.4,452.12 561.38,448.33 561.2,445C561.02,441.67 560.85,437.18 560.7,435C560.55,432.82 560.47,433.87 560.3,431.9C560.13,429.93 560.1,425.68 559.7,423.2C559.3,420.72 558.92,418.03 557.9,417C556.88,415.97 554.83,418.02 553.6,417C552.37,415.98 550.82,412.75 550.5,410.9C550.18,409.05 551.57,407.72 551.7,405.9C551.83,404.08 551.25,401.75 551.3,400C551.35,398.25 551.75,396.58 552,395.4C552.25,394.22 552.18,393.6 552.8,392.9C553.42,392.2 554.67,391.88 555.7,391.2C556.73,390.52 558.12,389.88 559,388.8C559.88,387.72 560.6,386.07 561,384.7C561.4,383.33 561.67,381.83 561.4,380.6C561.13,379.37 560.35,378.13 559.4,377.3C558.45,376.47 556.8,376.28 555.7,375.6C554.6,374.92 553.08,374.15 552.8,373.2Z" fill="#e8b2de"/><rect x="548.5" y="364.2" width="65.6" height="113.6" filter="url(#fvii)"/><polygon points="551.7,406.7 560.3,408.6 567.8,413.5 573.9,419.7 577.6,428.1 575.8,428.3 571.5,422.8 565.3,418.5 559.1,413.5 552.9,411" fill="#fff" opacity="0.97"/><polygon points="579.9,441.9 588.7,446.9 583.8,446.2 582.6,451.8 581.1,451.2" fill="#fff" opacity="0.95"/><polyline points="552.5,396 558,395" fill="none" stroke="#fff" stroke-width="1.3" stroke-linecap="round" stroke-linejoin="round" opacity="0.85"/><polyline points="552.5,401 557.5,400.5" fill="none" stroke="#fff" stroke-width="1.3" stroke-linecap="round" stroke-linejoin="round" opacity="0.85"/><polyline points="553,385 556,388" fill="none" stroke="#fff" stroke-width="1.0" stroke-linecap="round" stroke-linejoin="round" opacity="0.6"/><ellipse cx="591.5" cy="431.4" rx="1.6" ry="0.9" transform="rotate(0 591.5 431.4)" fill="#fff" opacity="0.9"/><polyline points="576,372.5 583,369.5" fill="none" stroke="#f07ab8" stroke-width="0.8" stroke-linecap="round" stroke-linejoin="round" opacity="0.6"/></g>
<g clip-path="url(#cviii)"><path d="M621.7,374.8C621.7,373.87 622.17,373.13 623.5,371.7C624.83,370.27 627.63,367.57 629.7,366.2C631.77,364.83 633.85,363.82 635.9,363.5C637.95,363.18 639.53,363.65 642,364.3C644.47,364.95 648.02,366.07 650.7,367.4C653.38,368.73 655.83,370.65 658.1,372.3C660.37,373.95 662.03,375.43 664.3,377.3C666.57,379.17 669.75,381.75 671.7,383.5C673.65,385.25 675.8,386.88 676,387.8C676.2,388.72 673.82,388.67 672.9,389C671.98,389.33 670.57,389.38 670.5,389.8C670.43,390.22 671.9,390.92 672.5,391.5C673.1,392.08 673.42,391.97 674.1,393.3C674.78,394.63 675.87,396.82 676.6,399.5C677.33,402.18 677.88,405.65 678.5,409.4C679.12,413.15 680,417.73 680.3,422C680.6,426.27 680.47,430.83 680.3,435C680.13,439.17 679.87,443.32 679.3,447C678.73,450.68 677.92,454.8 676.9,457.1C675.88,459.4 674.85,459.57 673.2,460.8C671.55,462.03 669.27,463.17 667,464.5C664.73,465.83 662.08,467.67 659.6,468.8C657.12,469.93 654.58,470.82 652.1,471.3C649.62,471.78 646.85,472.02 644.7,471.7C642.55,471.38 640.63,470.6 639.2,469.4C637.77,468.2 636.83,466.55 636.1,464.5C635.37,462.45 635.1,460.02 634.8,457.1C634.5,454.18 634.52,450.35 634.3,447C634.08,443.65 633.88,440.67 633.5,437C633.12,433.33 632.67,429 632,425C631.33,421 630.2,417.05 629.5,413C628.8,408.95 628.22,404.18 627.8,400.7C627.38,397.22 627.27,394.77 627,392.1C626.73,389.43 626.47,386.75 626.2,384.7C625.93,382.65 625.85,381.03 625.4,379.8C624.95,378.57 624.12,378.13 623.5,377.3C622.88,376.47 621.7,375.73 621.7,374.8Z" fill="#e8b2de"/><rect x="619.7" y="361.5" width="62.6" height="112.2" filter="url(#fviii)"/><polygon points="633.7,392.3 636.2,392.9 640.3,397.5 643.4,402.6 642.4,404.7 639.3,401.6 635.7,396.5" fill="#fff" opacity="0.97"/><polygon points="637.8,406.2 640.9,407.8 643.4,410.9 646,416 646.5,423.2 645.5,428.3 644.5,428.3 643.4,421.2 642.4,414 639.3,409.8" fill="#fff" opacity="0.97"/><polyline points="643.4,410.9 648,411.6 653.7,412.9 658,414.2 662,416 666,419.1" fill="none" stroke="#fff" stroke-width="2.6" stroke-linecap="round" stroke-linejoin="round" opacity="0.97"/><polyline points="644.5,400.6 649,399.8 653.7,399 660,398.4 666,398" fill="none" stroke="#fff" stroke-width="1.9" stroke-linecap="round" stroke-linejoin="round" opacity="0.95"/><polygon points="657.8,388.2 665,387.5 672.2,387.2 672,388.6 665,389.4 657.8,389.5" fill="#fff" opacity="0.95"/><polyline points="643.5,433 644,438" fill="none" stroke="#fff" stroke-width="1.6" stroke-linecap="round" stroke-linejoin="round" opacity="0.8"/><polyline points="642.5,448.5 643,455" fill="none" stroke="#fff" stroke-width="2.2" stroke-linecap="round" stroke-linejoin="round" opacity="0.9"/><polyline points="657,440 661,446" fill="none" stroke="#f07ab8" stroke-width="0.9" stroke-linecap="round" stroke-linejoin="round" opacity="0.7"/></g>
<text x="385.4" y="243" class="rl">i</text>
<text x="463.5" y="243" class="rl">ii</text>
<text x="539.4" y="243" class="rl">iii</text>
<text x="609.5" y="243" class="rl">iv</text>
<text x="385.3" y="367.4" class="rl">v</text>
<text x="463.7" y="368.6" class="rl">vi</text>
<text x="540" y="368.6" class="rl">vii</text>
<text x="610" y="368.6" class="rl">viii</text>
<line x1="429" y1="351.3" x2="450.9" y2="351.3" stroke="#111" stroke-width="1.9"/>
<line x1="511.2" y1="351.5" x2="528.9" y2="351.5" stroke="#111" stroke-width="1.9"/>
<line x1="581.9" y1="351.3" x2="603.5" y2="351.3" stroke="#111" stroke-width="1.9"/>
<line x1="658.3" y1="351.3" x2="678.5" y2="351.3" stroke="#111" stroke-width="1.9"/>
<line x1="439.1" y1="476" x2="461.5" y2="476" stroke="#111" stroke-width="1.9"/>
<line x1="518.6" y1="476" x2="540.5" y2="476" stroke="#111" stroke-width="1.9"/>
<line x1="589.9" y1="476.2" x2="614" y2="476.2" stroke="#111" stroke-width="1.9"/>
<line x1="658.9" y1="476.2" x2="675.6" y2="476.2" stroke="#111" stroke-width="1.9"/>
</svg>
</body></html>
